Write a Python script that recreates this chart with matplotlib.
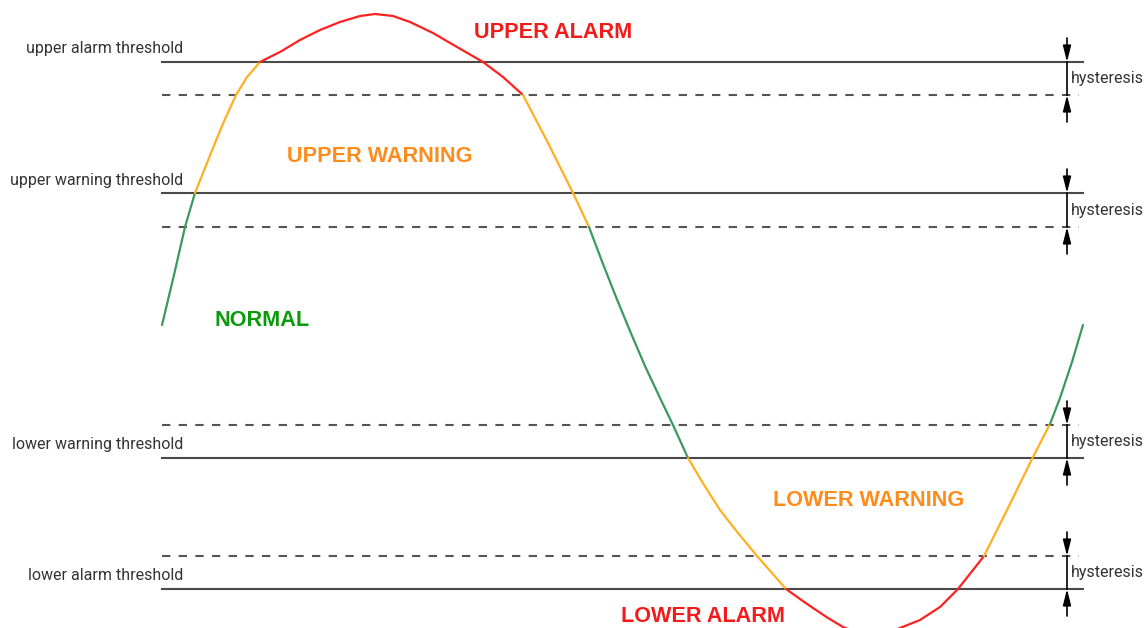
import matplotlib
matplotlib.use("Agg")
import matplotlib.pyplot as plt

# punts de la corba (coordenades del dibuix, y cap avall)
curve_x = [162, 174, 185, 195, 205, 215, 225, 236, 247, 260,
           280, 300, 320, 340, 360, 375, 393, 410, 433, 457, 483, 503, 523,
           548, 573, 589,
           603, 616, 630, 645, 660, 673, 688,
           704, 720, 738, 757, 772, 786,
           800, 813, 828, 843, 858, 872, 888, 900, 920, 940, 958, 973, 984,
           1007, 1033, 1050,
           1060, 1072, 1083]
curve_y = [325, 275, 227, 193, 168, 143, 119, 95, 77, 62,
           52, 40, 30, 22, 16, 14, 16, 22, 33, 47, 62, 77, 95,
           143, 193, 227,
           264, 297, 331, 366, 398, 425, 458,
           485, 510, 533, 556, 573, 589,
           599, 608, 618, 627, 633, 635, 633, 628, 620, 607, 589, 570, 556,
           510, 457, 424,
           398, 362, 325]

# trams de color: index inicial, index final, estat
seg_start = [0, 3, 9, 22, 25, 32, 38, 51, 54]
seg_end = [3, 9, 22, 25, 32, 38, 51, 54, 57]
seg_state = ["normal", "warning", "alarm", "warning", "normal", "warning", "alarm", "warning", "normal"]

# llindars i histeresi
thr_y = [62, 193, 458, 589]
hys_y = [95, 227, 425, 556]
thr_names = ["upper alarm threshold", "upper warning threshold",
             "lower warning threshold", "lower alarm threshold"]

# etiquetes de zona
zone_names = ["UPPER ALARM", "UPPER WARNING", "NORMAL", "LOWER WARNING", "LOWER ALARM"]
zone_x = [553, 380, 262, 869, 703]
zone_y = [33, 156, 320, 500, 617]
zone_state = ["alarm", "warning", "normal_txt", "warning", "alarm"]

line_col = {"normal": "#3a9a5e", "warning": "#ffb020", "alarm": "#ff2020"}
text_col = {"normal_txt": "#0a9a0a", "warning": "#ff8c1a", "alarm": "#f51a1a"}

fig = plt.figure(figsize=(11.46, 6.28), dpi=100)
ax = fig.add_axes([0, 0, 1, 1])
ax.set_xlim(0, 1146)
ax.set_ylim(628, 0)
ax.axis("off")

x0, x1 = 162, 1083
ax_x = 1067

# linies de llindar i d'histeresi
for t, h, name in zip(thr_y, hys_y, thr_names):
    ax.plot([x0, x1], [t, t], color="#4a4a4a", lw=1.5, zorder=1)
    ax.plot([x0, x1 - 4], [h, h], color="#555555", lw=1.5, linestyle=(0, (4, 4)), zorder=1)
    ax.text(183, t - 13, name, ha="right", va="center", fontsize=11.5,
            family="Roboto", color="#333333")

    a, b = min(t, h), max(t, h)
    ax.plot([ax_x, ax_x], [a, b], color="black", lw=1.2, zorder=2)
    ax.annotate("", xy=(ax_x, a), xytext=(ax_x, a - 24),
                arrowprops=dict(arrowstyle="-|>,head_length=0.8,head_width=0.2",
                                color="black", lw=1.2, mutation_scale=12, shrinkA=0, shrinkB=0))
    ax.annotate("", xy=(ax_x, b), xytext=(ax_x, b + 27),
                arrowprops=dict(arrowstyle="-|>,head_length=0.8,head_width=0.2",
                                color="black", lw=1.2, mutation_scale=12, shrinkA=0, shrinkB=0))
    ax.text(1071, (a + b) / 2, "hysteresis", ha="left", va="center", fontsize=11.5,
            family="Roboto", color="#333333")

# corba per trams
for s, e, st in zip(seg_start, seg_end, seg_state):
    ax.plot(curve_x[s:e + 1], curve_y[s:e + 1], color=line_col[st], lw=1.6,
            solid_capstyle="round", solid_joinstyle="round", zorder=3)

# textos de zona
for name, x, y, st in zip(zone_names, zone_x, zone_y, zone_state):
    ax.text(x, y, name, ha="center", va="center", fontsize=15.6, fontweight="bold",
            family="Liberation Sans", color=text_col[st], zorder=4)

fig.savefig("out.png", dpi=100)
